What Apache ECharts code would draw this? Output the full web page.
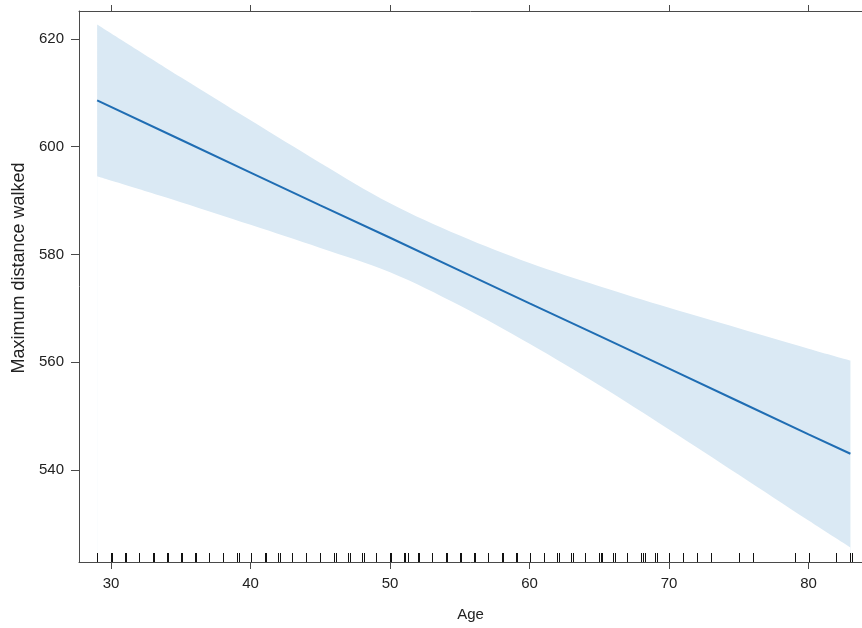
<!DOCTYPE html>
<html>
<head>
<meta charset="utf-8">
<script src="https://cdn.jsdelivr.net/npm/echarts@6/dist/echarts.min.js"></script>
<style>html,body{margin:0;padding:0;background:#fff;}#c{width:862px;height:628px;}</style>
</head>
<body>
<div id="c"></div>
<script>
var ages  = [29, 35, 40, 45, 50, 55, 60, 65, 70, 75, 80, 83];
var fit   = [608.6, 601.3, 595.2, 589.1, 583.1, 577.0, 570.9, 564.9, 558.8, 552.7, 546.6, 543.0];
var upper = [622.7, 612.9, 604.9, 597.0, 589.5, 583.5, 578.4, 574.1, 570.1, 566.3, 562.5, 560.3];
var lower = [594.5, 589.7, 585.5, 581.2, 576.7, 570.5, 563.4, 555.7, 547.5, 539.1, 530.6, 525.6];
var rugAges = [29, 30, 30.1, 31, 31.1, 32, 33, 33.1, 34, 34.1, 35, 35.1, 36, 36.1, 37, 38, 39, 39.15, 40, 41, 41.1,
  42, 42.1, 43, 44, 45, 46, 46.1, 47, 47.1, 48, 48.1, 49, 50, 50.1, 51, 51.1, 51.25, 52, 52.1, 53, 54, 54.1,
  55, 55.1, 56, 56.1, 57, 58, 58.1, 59, 59.1, 60, 61, 62, 62.1, 63, 63.1, 64, 65, 65.1, 65.2, 66, 66.1, 67,
  68, 68.1, 68.25, 69, 69.1, 70, 71, 72, 73, 75, 76, 79, 80, 82, 83, 83.1];
var xTicks = [30, 40, 50, 60, 70, 80];
var yTicks = [540, 560, 580, 600, 620];
var xTitle = 'Age';
var yTitle = 'Maximum distance walked';

var X_MIN = 27.7, X_MAX = 83.83, Y_MIN = 522.9, Y_MAX = 625.2;
var FONT = "'Liberation Sans', Arial, sans-serif";
var AX = '#4a4a4a';
var BAND = '#dae9f4';

var fitData = ages.map(function (a, i) { return [a, fit[i]]; });
var upperData = ages.map(function (a, i) { return [a, upper[i]]; });
var lowerData = ages.map(function (a, i) { return [a, lower[i]]; });
var rugData = rugAges.map(function (a) { return [a]; });

var chart = echarts.init(document.getElementById('c'), null, {renderer: 'canvas'});
chart.setOption({
  animation: false,
  backgroundColor: '#fff',
  textStyle: {fontFamily: FONT},
  grid: {left: 79, top: 11, right: 0, bottom: 66, containLabel: false},
  xAxis: [{
    type: 'value', position: 'bottom', min: X_MIN, max: X_MAX, z: 10,
    name: xTitle, nameLocation: 'middle', nameGap: 45,
    nameTextStyle: {fontSize: 15, color: '#222', fontFamily: FONT},
    axisLine: {show: true, onZero: false, lineStyle: {color: AX, width: 1}},
    axisTick: {show: true, length: 7, customValues: xTicks, lineStyle: {color: AX}},
    axisLabel: {show: true, customValues: xTicks, fontSize: 15, color: '#222', margin: 14, fontFamily: FONT},
    splitLine: {show: false}
  }, {
    type: 'value', position: 'top', min: X_MIN, max: X_MAX, z: 10,
    axisLine: {show: true, onZero: false, lineStyle: {color: AX, width: 1}},
    axisTick: {show: true, length: 6, customValues: xTicks, lineStyle: {color: AX}},
    axisLabel: {show: false},
    splitLine: {show: false}
  }],
  yAxis: [{
    type: 'value', position: 'left', min: Y_MIN, max: Y_MAX, z: 10,
    axisLine: {show: true, onZero: false, lineStyle: {color: AX, width: 1}},
    axisTick: {show: true, length: 8, customValues: yTicks, lineStyle: {color: AX}},
    axisLabel: {show: true, customValues: yTicks, fontSize: 15, color: '#222', margin: 15, fontFamily: FONT},
    splitLine: {show: false}
  }],
  graphic: [{
    type: 'text', x: 19, y: 268, rotation: Math.PI / 2,
    style: {text: yTitle, fontSize: 18, fill: '#222', fontFamily: FONT, align: 'center', verticalAlign: 'middle'}
  }],
  series: [{
    name: 'upper', type: 'line', data: upperData, symbol: 'none', smooth: 0.35, silent: true, z: 1,
    lineStyle: {width: 0, opacity: 0}, areaStyle: {color: BAND, opacity: 1, origin: 'start'}
  }, {
    name: 'lower', type: 'line', data: lowerData, symbol: 'none', smooth: 0.35, silent: true, z: 1,
    lineStyle: {width: 0, opacity: 0}, areaStyle: {color: '#ffffff', opacity: 1, origin: 'start'}
  }, {
    name: 'fit', type: 'line', data: fitData, symbol: 'none', silent: true,
    lineStyle: {color: '#1f6db3', width: 2}, z: 3
  }, {
    name: 'rug', type: 'custom', data: rugData, clip: false, z: 4,
    encode: {x: 0},
    renderItem: function (params, api) {
      var p = api.coord([api.value(0), Y_MIN]);
      var x = Math.round(p[0]) + 0.5;
      return {
        type: 'line',
        shape: {x1: x, y1: p[1], x2: x, y2: p[1] - 9},
        style: {stroke: '#111', lineWidth: 1}
      };
    }
  }]
});
</script>
</body>
</html>
